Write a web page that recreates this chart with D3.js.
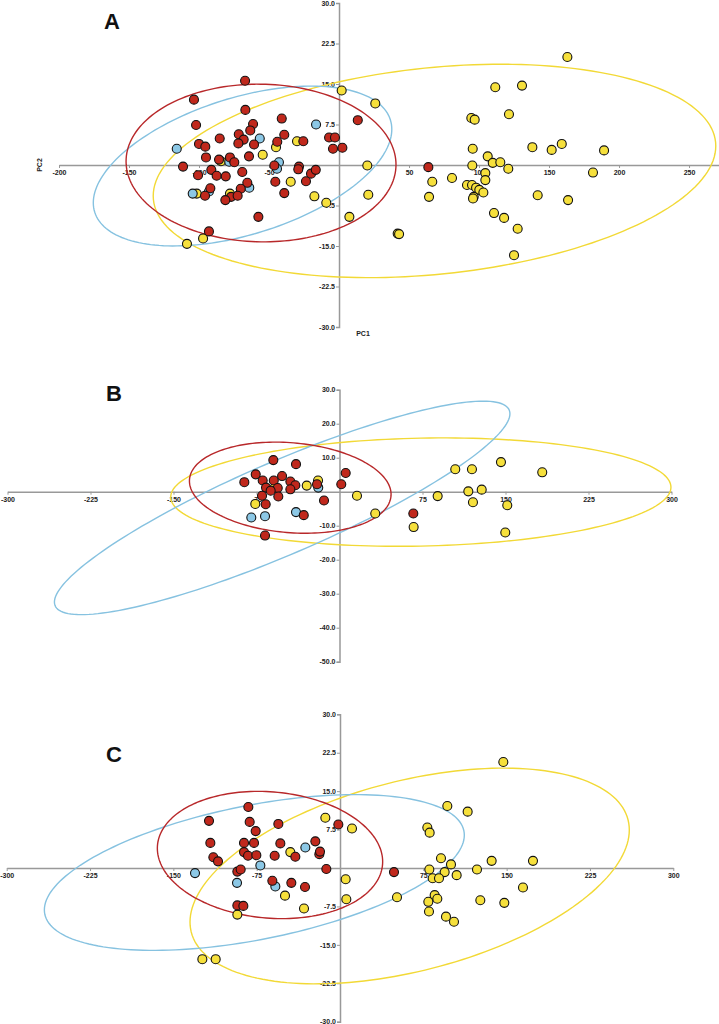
<!DOCTYPE html>
<html><head><meta charset="utf-8">
<script src="https://cdn.jsdelivr.net/npm/d3@7/dist/d3.min.js"></script>
<style>body{margin:0;background:#fff}svg{display:block}</style>
</head><body>
<svg id="chart" width="719" height="1024"></svg>
<script>
// ---------- DATA (PC1, PC2 scores) ----------
const panelLabels = ["A", "B", "C"];

const aRed = [[-67.1,15.6],[-103.6,12.1],[-66.9,10.2],[-40.9,8.6],[-102.1,7.4],[-61.4,7.6],[-63.4,6.4],[-39.1,5.6],[-85.2,4.9],[-71.6,5.7],[-68.1,4.7],[-71.9,4.0],[-60.7,3.8],[-44.1,4.3],[-25.5,4.4],[-7.1,5.1],[-2.9,5.1],[-4.3,3.0],[2.4,3.2],[13.4,8.3],[-100,3.9],[-95.5,3.4],[-95,1.4],[-64.3,1.6],[-77.9,1.4],[-85.7,1.0],[-74.8,0.5],[-111.4,-0.3],[-100.7,-1.9],[-91.2,-0.9],[-87.4,-2.0],[-80.9,-2.1],[-69.1,-1.3],[-46.2,-0.1],[-28.6,-0.3],[-29.1,-0.8],[-20,-1.6],[-16.6,-0.9],[-45.5,-3.1],[-23.6,-3.0],[-65.5,-3.3],[-70.2,-4.4],[-91.9,-4.3],[-95.7,-5.7],[-77.1,-5.9],[-72.4,-5.7],[-81.2,-6.5],[-39.1,-5.2],[-57.6,-9.6],[-92.9,-12.3],[63.8,-0.4]];
const aBlue = [[-115.9,3.0],[-56.6,4.9],[-16.4,7.5],[-78.4,0.6],[-42.9,0.5],[-44.3,-0.7],[-104.5,-5.3],[-92.9,-4.9],[-64.1,-4.2]];
const aYellow = [[1.9,13.8],[-45,3.3],[-30,4.4],[-54.5,1.9],[-84.3,0.7],[-101.6,-5.3],[-77.9,-5.3],[-34.5,-3.1],[-17.6,-5.8],[-9.1,-7.0],[7.4,-9.6],[-97.1,-13.6],[-108.6,-14.6],[25.9,11.4],[20.2,-0.1],[20.9,-5.5],[41.9,-12.7],[42.9,-12.8],[66.6,-3.1],[64.3,-5.9],[80.7,-2.4],[94.5,8.7],[96.9,8.4],[95.5,3.0],[95.2,-0.1],[91.4,-3.7],[95,-3.7],[97.9,-4.2],[100.2,-4.6],[103.1,-5.1],[96.2,-5.9],[95.7,-6.2],[106.2,1.6],[109.8,0.4],[115.2,0.5],[104.5,-1.5],[104.5,-2.8],[120.9,-0.7],[111.6,14.4],[130.7,14.7],[121.4,9.4],[163.1,20.0],[138.1,3.3],[151.9,2.8],[159.1,3.9],[189.3,2.7],[181.4,-1.4],[141.9,-5.6],[163.6,-6.5],[110.7,-8.9],[117.9,-9.8],[127.6,-11.8],[125,-16.7]];

const bRed = [[-59.8,9.3],[-39.3,8.1],[-75.7,5.1],[-86,2.8],[-69.4,3.3],[-59.4,3.3],[-51.9,4.6],[-44.4,3.0],[-39.9,1.9],[-66.4,1.2],[-55.8,1.1],[-62.2,0.3],[-44.4,0.7],[-70,-1.2],[-55.3,-1.4],[-66.7,-3.7],[-20.3,2.2],[-14,-2.6],[-32.3,-6.9],[-67.3,-12.9],[1.6,2.2],[5.6,5.5],[66.7,-6.4]];
const bBlue = [[-19.2,1.2],[-79.7,-7.6],[-67.3,-7.2],[-39.3,-6.0]];
const bYellow = [[-19.4,3.3],[-58.5,1.2],[-29.6,1.8],[-76.1,-3.6],[15.8,-1.2],[32.3,-6.4],[67,-10.4],[88.7,-1.3],[104.6,6.6],[119.7,6.6],[145.9,8.7],[183.2,5.7],[116.4,0.1],[128.5,0.6],[120.6,-3.1],[151.6,-4.0],[149.8,-12]];

const cRed = [[-82.5,11.9],[-117.9,9.2],[-81.3,9.0],[-75.9,7.2],[-55.5,8.6],[-1.5,8.5],[-116.7,4.9],[-86.4,4.9],[-77.4,4.9],[-53.7,4.8],[-22.2,5.2],[-86.4,3.1],[-82.8,2.4],[-75.3,2.5],[-58.8,2.4],[-40.2,2.2],[-18.6,2.7],[-18,3.2],[-114,2.1],[-109.8,1.3],[-12.3,-0.2],[-92.4,-0.7],[-89.4,-0.3],[-60.9,-2.5],[-43.8,-2.9],[-31.5,-3.7],[-92.4,-7.3],[-87,-7.4],[48.6,-0.8]];
const cBlue = [[-130.5,-1.0],[-71.7,0.5],[-31.2,4.0],[-92.7,-2.9],[-58.2,-3.6]];
const cYellow = [[-13.2,9.8],[10.8,7.7],[-44.7,3.1],[5.1,-2.2],[5.7,-6.1],[-49.5,-5.4],[-32.4,-7.9],[-92.4,-9.1],[-123.9,-17.8],[-111.9,-17.8],[51.3,-5.7],[147,20.7],[96.6,12.1],[114.9,11.0],[78.6,7.9],[80.7,6.9],[90.9,1.9],[99.9,0.7],[80.4,-0.3],[94.2,-0.8],[83.4,-2.0],[89.1,-2.0],[105,-1.4],[123.3,-0.3],[136.5,1.4],[173.7,1.4],[164.7,-3.8],[85.2,-5.3],[87.6,-6.0],[79.5,-6.6],[80.1,-8.5],[126.3,-6.3],[147.9,-6.8],[95.4,-9.5],[102.6,-10.5]];

// confidence ellipses: [centre x, centre y, half-extent x, half-extent y, correlation]
const aEllipses = {red:[-55.7,0.37,96.4,14.6,-0.02], blue:[-68.9,-0.19,106.6,14.8,0.46], yellow:[68.2,-1.1,200.9,19.76,0.234]};
const bEllipses = {red:[-44.5,1.18,91.1,13.4,-0.147], blue:[-51.8,-4.76,205.8,31.4,0.882], yellow:[73.5,-0.12,226,15.94,0.09]};
const cEllipses = {red:[-63,2.54,101.4,12.42,-0.105], blue:[-77.1,-0.88,189,15.2,0.48], yellow:[62.7,-1.56,197.7,21.05,0.427]};

// tick values
const aXTicks = [-200,-150,-100,-50,50,100,150,200,250];
const aYTicks = [30,22.5,15,7.5,-7.5,-15,-22.5,-30];
const bXTicks = [-300,-225,-150,-75,75,150,225,300];
const bYTicks = [30,20,10,-10,-20,-30,-40,-50];
const cXTicks = [-300,-225,-150,-75,75,150,225,300];
const cYTicks = [30,22.5,15,7.5,-7.5,-15,-22.5,-30];

// ---------- STYLE ----------
const fills = {red:"#c0281c", blue:"#8cc8e6", yellow:"#f6e03c"};
const strokes = {red:"#b8282a", blue:"#86c2e0", yellow:"#f2d936"};

const panels = [
  {label:panelLabels[0], red:aRed, blue:aBlue, yellow:aYellow, ell:aEllipses, xt:aXTicks, yt:aYTicks,
   xd:[-200,271.4], xr:[59,719], yd:[-30,30], yr:[327,3], labelPos:[112,29], pcLabels:true},
  {label:panelLabels[1], red:bRed, blue:bBlue, yellow:bYellow, ell:bEllipses, xt:bXTicks, yt:bYTicks,
   xd:[-300,300], xr:[7.5,671.5], yd:[-50,30], yr:[661.7,389.7], labelPos:[114,401], pcLabels:false},
  {label:panelLabels[2], red:cRed, blue:cBlue, yellow:cYellow, ell:cEllipses, xt:cXTicks, yt:cYTicks,
   xd:[-300,300], xr:[6.7,673.3], yd:[-30,30], yr:[1021.7,714.3], labelPos:[114,762], pcLabels:false}
];

const svg = d3.select("#chart");
const font = "'Liberation Sans', Arial, sans-serif";
const hy = s => s.replace("\u2212", "-");
const fmtX = d => hy(d3.format("d")(d));
const fmtY = d => hy(d3.format(".1f")(d));

panels.forEach(p => {
  const g = svg.append("g");
  const x = d3.scaleLinear().domain(p.xd).range(p.xr);
  const y = d3.scaleLinear().domain(p.yd).range(p.yr);
  const x0 = x(0), y0 = y(0);

  const xAxis = g.append("g").attr("transform", `translate(0,${y0})`)
    .call(d3.axisBottom(x).tickValues(p.xt).tickSize(3).tickSizeOuter(0).tickFormat(fmtX));
  const yAxis = g.append("g").attr("transform", `translate(${x0},0)`)
    .call(d3.axisLeft(y).tickValues(p.yt).tickSize(3).tickSizeOuter(3).tickFormat(fmtY));
  [xAxis, yAxis].forEach(ax => {
    ax.select(".domain").attr("stroke", "#999").attr("stroke-width", 1.5);
    ax.selectAll(".tick line").attr("stroke", "#999").attr("stroke-width", 1);
    ax.selectAll(".tick text").attr("fill", "#222").attr("font-size", 7).attr("font-weight", "bold")
      .attr("font-family", font);
  });
  xAxis.selectAll(".tick text").attr("dy", "0.9em").attr("y", 4);
  yAxis.selectAll(".tick text").attr("x", -4);

  if (p.pcLabels) {
    g.append("text").attr("transform", `translate(42,${y0}) rotate(-90)`).attr("text-anchor","middle")
      .attr("font-size", 7).attr("font-weight","bold").attr("font-family", font).attr("fill","#222").text("PC2");
    g.append("text").attr("x", x0 + 24).attr("y", y(-30) + 9).attr("text-anchor","middle")
      .attr("font-size", 7).attr("font-weight","bold").attr("font-family", font).attr("fill","#222").text("PC1");
  }

  g.append("text").attr("x", p.labelPos[0]).attr("y", p.labelPos[1]).attr("text-anchor","middle")
    .attr("font-size", 22).attr("font-weight","bold").attr("font-family", font).attr("fill","#111").text(p.label);

  const line = d3.line().x(d => x(d[0])).y(d => y(d[1])).curve(d3.curveLinearClosed);
  ["yellow","blue","red"].forEach(k => {
    const [cx, cy, hx, hyv, r] = p.ell[k];
    const pts = d3.range(0, 2*Math.PI, Math.PI/90).map(t =>
      [cx + hx*Math.cos(t), cy + hyv*(r*Math.cos(t) + Math.sqrt(1 - r*r)*Math.sin(t))]);
    g.append("path").attr("d", line(pts)).attr("fill","none").attr("stroke", strokes[k]).attr("stroke-width", 1.4);
  });

  ["yellow","blue","red"].forEach(k => {
    g.append("g").selectAll("circle").data(p[k]).join("circle")
      .attr("cx", d => x(d[0])).attr("cy", d => y(d[1])).attr("r", 4.5)
      .attr("fill", fills[k]).attr("stroke", "#111").attr("stroke-width", 1.1);
  });
});
</script>
</body></html>
